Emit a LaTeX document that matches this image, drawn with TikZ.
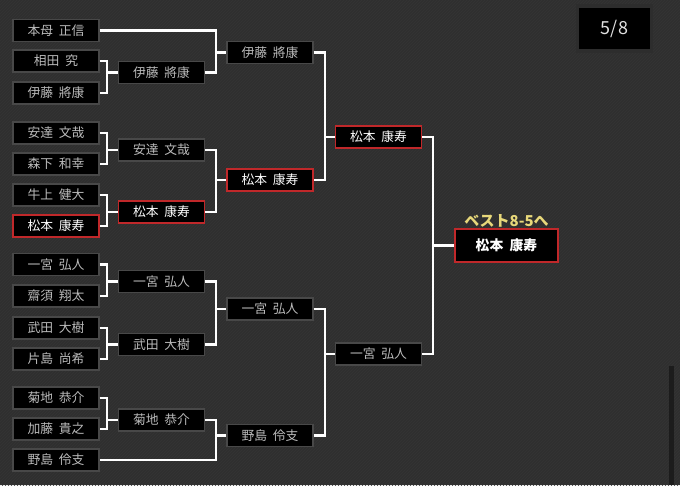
\documentclass[tikz,border=0pt]{standalone}
\usepackage{fontspec}
\setmainfont{Noto Sans CJK JP}[WordSpace=2.0]
\usetikzlibrary{patterns}
\definecolor{bg}{HTML}{2F2F2F}
\definecolor{stripe}{HTML}{353535}
\definecolor{boxgray}{HTML}{484848}
\definecolor{txtgray}{HTML}{BBBBBB}
\definecolor{redb}{HTML}{C0282A}
\definecolor{gold}{HTML}{E8D87A}
\definecolor{scroll}{HTML}{1C1C1C}
\newcommand\bkt[4]{%
  \draw[conn] (#1.east) -- (#1.east -| #4) -- (#2.east -| #4) -- (#2.east);
  \draw[conn] (#3.west -| #4) -- (#3.west);}
\begin{document}
\begin{tikzpicture}[x=1pt,y=-1pt,
  pbox/.style={draw=boxgray, line width=1.2pt, fill=black, minimum width=86pt,
    minimum height=22pt, inner sep=0pt, text=txtgray,
    font=\fontsize{12.8}{14}\selectfont},
  rbox/.style={pbox, draw=redb, line width=1.8pt, text=white},
  conn/.style={draw=white, line width=2.3pt, line join=miter}]
\useasboundingbox (0,0) rectangle (680,485);
\fill[bg] (0,0) rectangle (680,485);
\fill[pattern=north east lines, pattern color=stripe] (0,0) rectangle (680,485);

\coordinate (v1) at (107,0);
\coordinate (v2) at (216,0);
\coordinate (v3) at (325,0);
\coordinate (v4) at (433,0);

% round 1
\node[pbox] (a1) at (56,30.5) {本母 正信};
\node[pbox] (a2) at (56,61) {相田 究};
\node[pbox] (a3) at (56,93) {伊藤 將康};
\node[pbox] (a4) at (56,133) {安達 文哉};
\node[pbox] (a5) at (56,164) {森下 和幸};
\node[pbox] (a6) at (56,195) {牛上 健大};
\node[rbox] (a7) at (56,226) {松本 康寿};
\node[pbox] (a8) at (56,264.5) {一宮 弘人};
\node[pbox] (a9) at (56,296) {齋須 翔太};
\node[pbox] (a10) at (56,328) {武田 大樹};
\node[pbox] (a11) at (56,359) {片島 尚希};
\node[pbox] (a12) at (56,398) {菊地 恭介};
\node[pbox] (a13) at (56,429) {加藤 貴之};
\node[pbox] (a14) at (56,460) {野島 伶支};

% round 2
\node[pbox] (b1) at (161.5,72.5) {伊藤 將康};
\node[pbox] (b2) at (161.5,150) {安達 文哉};
\node[rbox] (b3) at (161.5,212) {松本 康寿};
\node[pbox] (b4) at (161.5,281.5) {一宮 弘人};
\node[pbox] (b5) at (161.5,344.5) {武田 大樹};
\node[pbox] (b6) at (161.5,420) {菊地 恭介};

% round 3
\node[pbox] (c1) at (270,52.5) {伊藤 將康};
\node[rbox] (c2) at (270,180) {松本 康寿};
\node[pbox] (c3) at (270,309) {一宮 弘人};
\node[pbox] (c4) at (270,435.5) {野島 伶支};

% round 4
\node[rbox] (d1) at (378.5,137) {松本 康寿};
\node[pbox] (d2) at (378.5,354) {一宮 弘人};

% final
\node[rbox, minimum width=103pt, minimum height=33pt, text=white,
  font=\fontsize{13.8}{15}\selectfont\bfseries] (f) at (506.5,245.5) {松本 康寿};
\node[text=gold, font=\fontsize{15}{16}\selectfont\bfseries, inner sep=0pt,
  anchor=south] (lbl) at (506.5,228) {ベスト8-5へ};

% connectors
\bkt{a2}{a3}{b1}{v1}
\bkt{a4}{a5}{b2}{v1}
\bkt{a6}{a7}{b3}{v1}
\bkt{a8}{a9}{b4}{v1}
\bkt{a10}{a11}{b5}{v1}
\bkt{a12}{a13}{b6}{v1}
\bkt{a1}{b1}{c1}{v2}
\bkt{b2}{b3}{c2}{v2}
\bkt{b4}{b5}{c3}{v2}
\bkt{b6}{a14}{c4}{v2}
\bkt{c1}{c2}{d1}{v3}
\bkt{c3}{c4}{d2}{v3}
\bkt{d1}{d2}{f}{v4}

% page counter
\node[draw=boxgray!115, line width=3.5pt, fill=black, minimum width=74pt,
  minimum height=45pt, inner sep=0pt, text=white!88!black,
  font=\fontsize{18}{20}\selectfont] (pg) at (614.5,28.5) {5/8};

% scrollbar
\fill[scroll] (668.5,366) rectangle (674,485);
\end{tikzpicture}
\end{document}
